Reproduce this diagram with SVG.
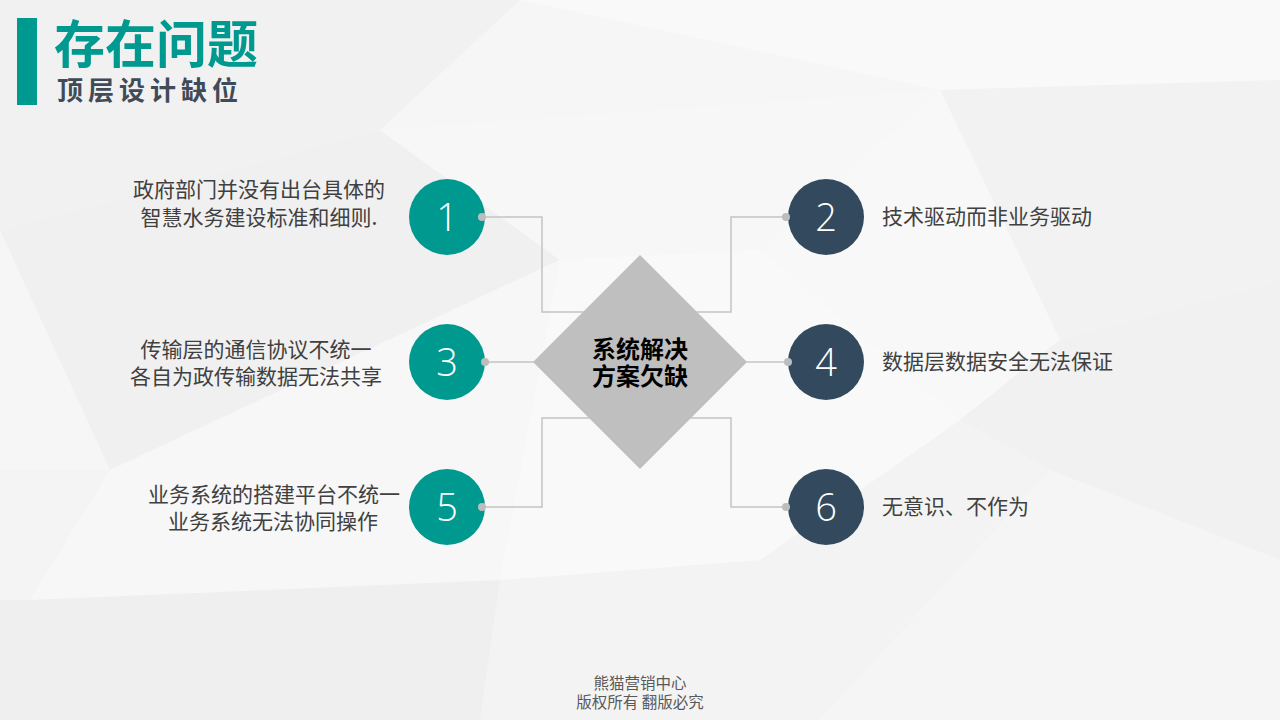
<svg xmlns="http://www.w3.org/2000/svg" width="1280" height="720" viewBox="0 0 1280 720">
<defs>
<style>
.bg{fill:#f6f6f6}
.poly{stroke:none}
.cT{fill:#00998f}
.cD{fill:#334a5e}
.num{font-family:"Open Sans","Liberation Sans",sans-serif;font-weight:300;font-size:38px;fill:#ffffff;text-anchor:middle}
.desc{font-family:"Noto Sans CJK SC","Noto Sans",sans-serif;font-size:21px;fill:#404040}
.conn{fill:none;stroke:#c4c4c4;stroke-width:1.5}
.dot{fill:#bdbdbd}
.foot{font-family:"Noto Sans CJK SC",serif;font-size:15.5px;fill:#595959;text-anchor:middle}
</style>
</defs>
<rect class="bg" x="0" y="0" width="1280" height="720"/>
<g id="background">
<polygon class="poly" fill="#f1f1f1" points="0,0 520,0 380,130 0,230"/>
<polygon class="poly" fill="#f9f9f9" points="520,0 1280,0 1280,80 940,90"/>
<polygon class="poly" fill="#f0f0f0" points="0,230 380,130 560,260 110,470"/>
<polygon class="poly" fill="#f7f7f7" points="380,130 940,90 760,250 560,260"/>
<polygon class="poly" fill="#f2f2f2" points="940,90 1280,80 1280,280 1060,340"/>
<polygon class="poly" fill="#f8f8f8" points="760,250 940,90 1060,340 960,420"/>
<polygon class="poly" fill="#f4f4f4" points="0,470 110,470 30,600 0,600"/>
<polygon class="poly" fill="#f7f7f7" points="110,470 560,260 500,580 30,600"/>
<polygon class="poly" fill="#f1f1f1" points="960,420 1060,340 1280,280 1280,560 1050,470"/>
<polygon class="poly" fill="#f3f3f3" points="500,580 760,560 960,420 1050,470 820,720 480,720"/>
<polygon class="poly" fill="#efefef" points="0,600 30,600 500,580 480,720 0,720"/>
<polygon class="poly" fill="#f5f5f5" points="1050,470 1280,560 1280,720 820,720"/>
<polygon class="poly" fill="#f9f9f9" points="560,260 760,250 960,420 760,560 500,580"/>
</g>
<g id="header">
<rect x="17" y="18" width="20" height="87" fill="#00998f"/>
<text x="54" y="63" font-family="Noto Sans CJK SC,sans-serif" font-weight="700" font-size="51" fill="#00998f">存在问题</text>
<text x="57" y="100" font-family="Noto Sans CJK SC,sans-serif" font-weight="700" font-size="26" letter-spacing="5" fill="#414b57">顶层设计缺位</text>
</g>
<g id="connectors">
<polyline class="conn" points="482,217 542,217 542,312 600,312"/>
<polyline class="conn" points="786,217 731,217 731,312 680,312"/>
<polyline class="conn" points="485,362 540,362"/>
<polyline class="conn" points="788,362 740,362"/>
<polyline class="conn" points="482,507 542,507 542,418 600,418"/>
<polyline class="conn" points="786,507 731,507 731,418 680,418"/>
</g>
<g id="center">
<polygon points="640,255 747,362 640,469 533,362" fill="#bfbfbf"/>
<text x="640" y="358" text-anchor="middle" font-family="Noto Sans CJK SC,sans-serif" font-weight="700" font-size="24" fill="#000000">系统解决</text>
<text x="640" y="385" text-anchor="middle" font-family="Noto Sans CJK SC,sans-serif" font-weight="700" font-size="24" fill="#000000">方案欠缺</text>
</g>
<g id="node1">
<circle class="cT" cx="447" cy="217" r="38"/>
<text class="num" x="447" y="231">1</text>
<circle class="dot" cx="482" cy="217" r="4"/>
<text class="desc" x="259" y="197" text-anchor="middle">政府部门并没有出台具体的</text>
<text class="desc" x="259" y="225" text-anchor="middle">智慧水务建设标准和细则.</text>
</g>
<g id="node2">
<circle class="cD" cx="826" cy="217" r="38"/>
<text class="num" x="826" y="231">2</text>
<circle class="dot" cx="786" cy="217" r="4"/>
<text class="desc" x="882" y="224">技术驱动而非业务驱动</text>
</g>
<g id="node3">
<circle class="cT" cx="447" cy="362" r="38"/>
<text class="num" x="447" y="376">3</text>
<circle class="dot" cx="485" cy="362" r="4"/>
<text class="desc" x="256" y="357" text-anchor="middle">传输层的通信协议不统一</text>
<text class="desc" x="256" y="384" text-anchor="middle">各自为政传输数据无法共享</text>
</g>
<g id="node4">
<circle class="cD" cx="826" cy="362" r="38"/>
<text class="num" x="826" y="376">4</text>
<circle class="dot" cx="788" cy="362" r="4"/>
<text class="desc" x="882" y="369">数据层数据安全无法保证</text>
</g>
<g id="node5">
<circle class="cT" cx="447" cy="507" r="38"/>
<text class="num" x="447" y="521">5</text>
<circle class="dot" cx="482" cy="507" r="4"/>
<text class="desc" x="274" y="502" text-anchor="middle">业务系统的搭建平台不统一</text>
<text class="desc" x="273" y="529" text-anchor="middle">业务系统无法协同操作</text>
</g>
<g id="node6">
<circle class="cD" cx="826" cy="507" r="38"/>
<text class="num" x="826" y="521">6</text>
<circle class="dot" cx="786" cy="507" r="4"/>
<text class="desc" x="882" y="514">无意识、不作为</text>
</g>
<g id="footer">
<text class="foot" x="640" y="689">熊猫营销中心</text>
<text class="foot" x="640" y="708">版权所有 翻版必究</text>
</g>
</svg>
